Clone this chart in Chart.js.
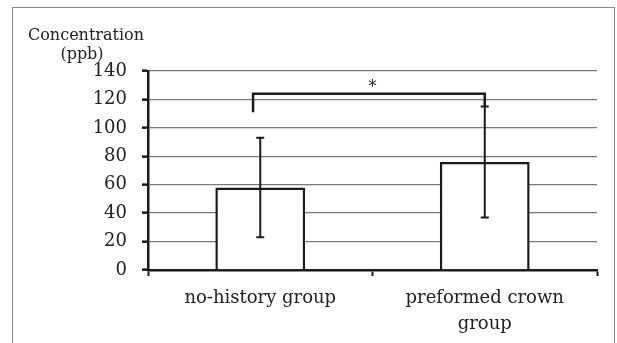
<!DOCTYPE html>
<html>
<head>
<meta charset="utf-8">
<script src="https://cdn.jsdelivr.net/npm/chart.js@4/dist/chart.umd.min.js"></script>
<style>
  html, body { margin: 0; padding: 0; background: #fff; }
  #wrap { position: relative; width: 617px; height: 343px; }
  #frame { position: absolute; left: 12px; top: 7px; width: 603px; height: 345px;
           border: 1.5px solid #888; border-bottom: none; box-sizing: border-box; }
  canvas { position: absolute; left: 0; top: 0; }
</style>
</head>
<body>
<div id="wrap">
  <div id="frame"></div>
  <canvas id="c" width="617" height="343"></canvas>
</div>
<script>
// Group means and standard deviations (ppb)
const groups = [['no-history group'], ['preformed crown', 'group']];
const means = [58, 76];
const sds = [35, 39];
const yTicks = [0, 20, 40, 60, 80, 100, 120, 140];
// Significance bracket: left leg end, bracket top, right leg end, label
const bracketLeftEnd = 111;
const bracketTop = 124;
const bracketRightEnd = 115;
const bracketLabel = '*';

const FONT = '"DejaVu Serif", "Liberation Serif", serif';

const errorBars = {
  id: 'errorBars',
  afterDatasetsDraw(chart) {
    const ctx = chart.ctx;
    const xs = chart.scales.x, ys = chart.scales.y;
    const meta = chart.getDatasetMeta(0);
    ctx.save();
    ctx.strokeStyle = '#1a1a1a';
    ctx.lineWidth = 2;
    meta.data.forEach((bar, i) => {
      const x = bar.x;
      const yTop = ys.getPixelForValue(means[i] + sds[i]);
      const yBot = ys.getPixelForValue(means[i] - sds[i]);
      ctx.beginPath();
      ctx.moveTo(x, yTop); ctx.lineTo(x, yBot);
      ctx.moveTo(x - 4, yTop); ctx.lineTo(x + 4, yTop);
      ctx.moveTo(x - 4, yBot); ctx.lineTo(x + 4, yBot);
      ctx.stroke();
    });
    // significance bracket between the two groups
    const xl = xs.getPixelForValue(-0.032);
    const xr = meta.data[1].x;
    const yb = ys.getPixelForValue(bracketTop);
    ctx.lineWidth = 2.5;
    ctx.beginPath();
    ctx.moveTo(xl, ys.getPixelForValue(bracketLeftEnd));
    ctx.lineTo(xl, yb);
    ctx.lineTo(xr, yb);
    ctx.lineTo(xr, ys.getPixelForValue(bracketRightEnd));
    ctx.stroke();
    ctx.fillStyle = '#222';
    ctx.font = '16px ' + FONT;
    ctx.textAlign = 'center';
    ctx.textBaseline = 'middle';
    ctx.fillText(bracketLabel, xs.getPixelForValue(0.5), yb - 6);
    ctx.restore();
  }
};

const yTitle = {
  id: 'yTitle',
  afterDraw(chart) {
    const ctx = chart.ctx;
    ctx.save();
    ctx.fillStyle = '#222';
    ctx.font = '16px ' + FONT;
    ctx.textAlign = 'center';
    ctx.textBaseline = 'alphabetic';
    ctx.fillText('Concentration', 86, 40);
    ctx.fillText('(ppb)', 82, 59);
    ctx.restore();
  }
};

new Chart(document.getElementById('c'), {
  type: 'bar',
  data: {
    labels: groups,
    datasets: [{
      data: means,
      backgroundColor: '#ffffff',
      borderColor: '#1a1a1a',
      borderWidth: 2.5,
      barPercentage: 0.4,
      categoryPercentage: 1.0
    }]
  },
  options: {
    responsive: false,
    animation: false,
    devicePixelRatio: 1,
    layout: { padding: { left: 0, right: 20, top: 71, bottom: 0 } },
    plugins: { legend: { display: false }, tooltip: { enabled: false } },
    scales: {
      x: {
        offset: true,
        grid: { offset: true, drawOnChartArea: false, drawTicks: true, tickLength: 6,
                tickColor: '#1a1a1a', tickWidth: 2 },
        border: { display: true, color: '#1a1a1a', width: 2.5 },
        ticks: { color: '#222', font: { family: FONT, size: 18, lineHeight: 1.45 }, padding: 9,
                 maxRotation: 0, autoSkip: false },
        afterFit(s) { s.height = 73; }
      },
      y: {
        min: 0, max: 140,
        afterBuildTicks(s) { s.ticks = yTicks.map(v => ({ value: v })); },
        grid: { color: '#7a7a7a', lineWidth: 1.3, drawTicks: true, tickLength: 6,
                tickColor: '#1a1a1a', tickWidth: 2.5 },
        border: { display: true, color: '#1a1a1a', width: 2.5 },
        ticks: { color: '#222', font: { family: FONT, size: 18 }, padding: 15 },
        afterFit(s) { s.width = 148; }
      }
    }
  },
  plugins: [errorBars, yTitle]
});
</script>
</body>
</html>
